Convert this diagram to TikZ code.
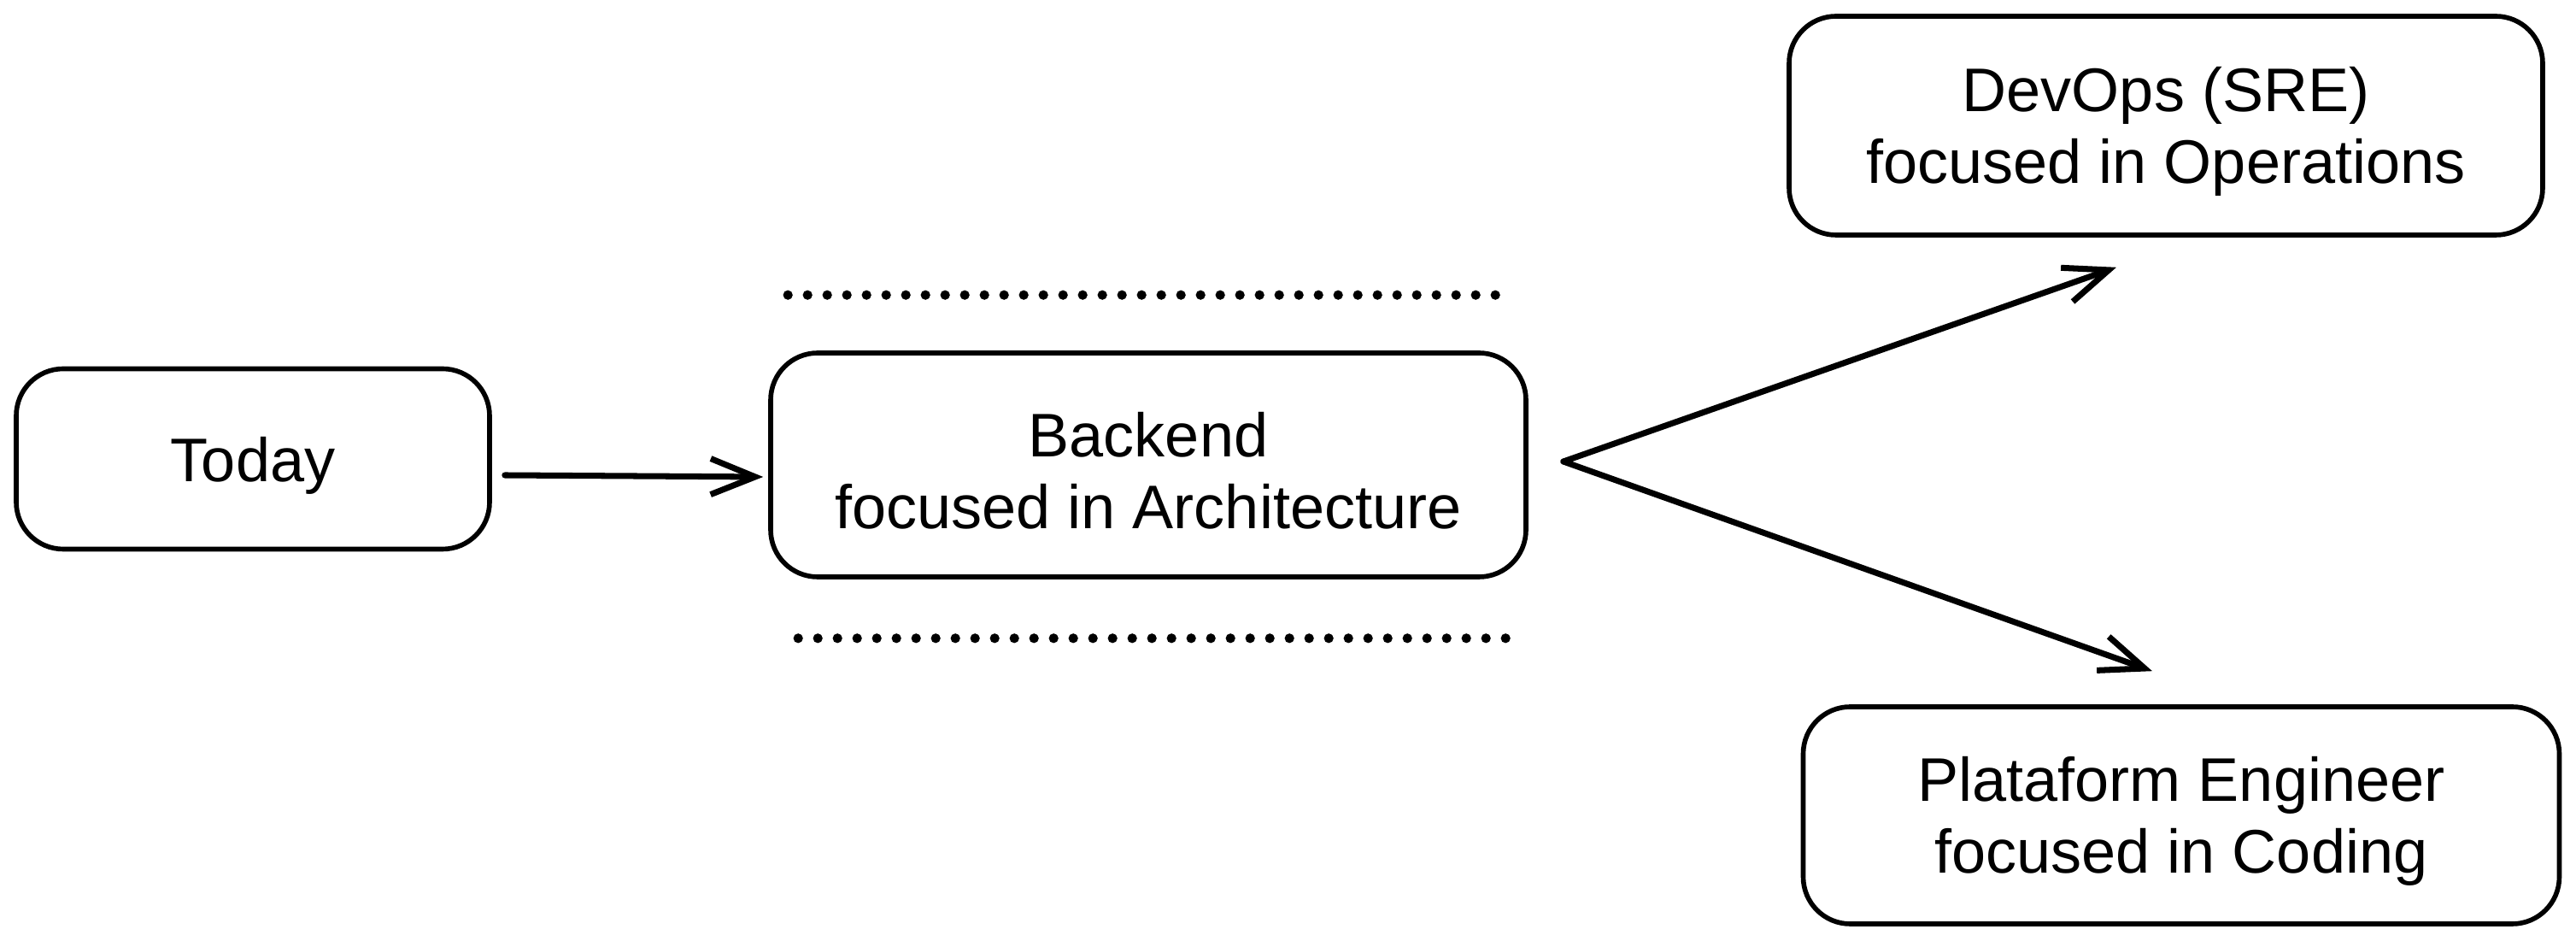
\documentclass[tikz,border=0pt]{standalone}
\usepackage{fontspec}
\setmainfont{Liberation Sans}
\usepackage{tikz}
\usetikzlibrary{arrows.meta}

\begin{document}
\begin{tikzpicture}
            \tikzstyle{card}=[draw, line width=1.6pt, rounded corners=0.55cm, align=center,
                font=\fontsize{20.5pt}{24pt}\selectfont, inner sep=0pt, text height=42.8pt]
            \tikzstyle{path}=[line width=2pt, line cap=round, -{Straight Barb[length=0.52cm,width=0.42cm,line width=2pt]}]
            \tikzstyle{dots}=[line width=3.2pt, line cap=round, dash pattern=on 0pt off 0.23cm]
            \useasboundingbox (0,0) rectangle (30.15,-11.01);
            \node[card, text height=19.6pt, minimum width=5.54cm, minimum height=2.11cm] (today) at (2.96,-5.37) {Today};
            \node[card, minimum width=8.84cm, minimum height=2.62cm] (backend) at (13.44,-5.44) {Backend\\focused in Architecture};
            \node[card, minimum width=8.82cm, minimum height=2.56cm] (devops) at (25.35,-1.47) {DevOps (SRE)\\focused in Operations};
            \node[card, minimum width=8.85cm, minimum height=2.54cm] (platform) at (25.53,-9.54) {Plataform Engineer\\focused in Coding};
            \draw[dots] ([xshift=0.23cm,yshift=0.65cm]backend.north west) -- ([xshift=-0.32cm,yshift=0.65cm]backend.north east);
            \draw[dots] ([xshift=0.35cm,yshift=-0.69cm]backend.south west) -- ([xshift=-0.21cm,yshift=-0.69cm]backend.south east);
            \coordinate (fork) at ([xshift=0.41cm,yshift=0.04cm]backend.east);
            \draw[path] ([xshift=0.15cm,yshift=-0.19cm]today.east) -- ([xshift=-0.06cm,yshift=-0.14cm]backend.west);
            \draw[path] (fork) -- ([xshift=-0.58cm,yshift=-0.35cm]devops.south);
            \draw[path] (fork) -- ([xshift=-0.34cm,yshift=0.39cm]platform.north);
        \end{tikzpicture}
\end{document}
